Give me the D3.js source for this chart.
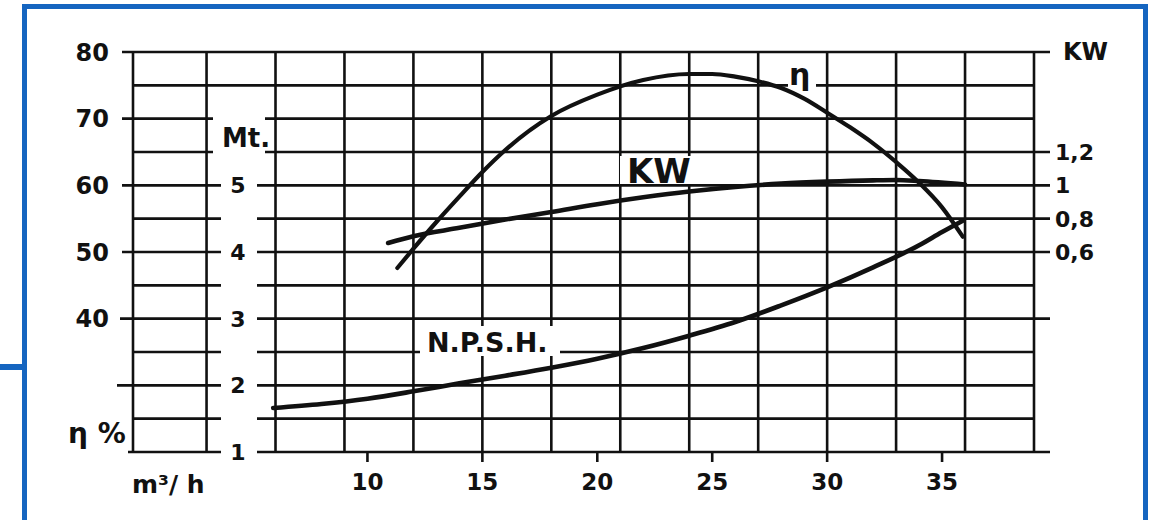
<!DOCTYPE html>
<html>
<head>
<meta charset="utf-8">
<script src="https://cdn.jsdelivr.net/npm/d3@7"></script>
<style>
  html, body { margin: 0; padding: 0; background: #fff; }
  svg { display: block; }
  text { font-family: "DejaVu Sans", sans-serif; font-weight: bold; fill: #111; }
</style>
</head>
<body>
<svg id="chart" width="1157" height="520"></svg>
<script>
// ---------------- data ----------------
const xTicks = [10, 15, 20, 25, 30, 35];
const gridX = [3, 6, 9, 12, 15, 18, 21, 24, 27, 30, 33, 36];
const etaTicks = [80, 70, 60, 50, 40];
const mtTicks = [5, 4, 3, 2, 1];
const kwTicks = [1.2, 1.0, 0.8, 0.6];
const kwTickLabels = ["1,2", "1", "0,8", "0,6"];
const gridMt = [1, 1.5, 2, 2.5, 3, 3.5, 4, 4.5, 5, 5.5, 6, 6.5, 7];

// efficiency η %
const etaQ = [11.3, 12, 13, 14, 15, 16, 18, 20, 22, 24, 25, 26, 27, 28, 29, 30, 31, 32, 33, 34, 35, 35.9];
const etaV = [47.6, 50.5, 54.5, 58.3, 62.0, 65.3, 70.4, 73.6, 75.8, 76.7, 76.7, 76.3, 75.6, 74.6, 73.0, 70.9, 68.7, 66.3, 63.5, 60.4, 56.7, 52.3];
// absorbed power KW
const kwQ = [10.9, 12, 14, 16, 18, 20, 22, 24, 26, 28, 30, 32, 33, 34, 36];
const kwV = [0.654, 0.695, 0.745, 0.795, 0.84, 0.887, 0.928, 0.963, 0.99, 1.01, 1.022, 1.03, 1.032, 1.026, 1.005];
// N.P.S.H. (Mt.)
const npshQ = [5.9, 8, 10, 12, 14, 16, 18, 20, 22, 24, 26, 28, 30, 32, 34, 35, 35.9];
const npshV = [1.66, 1.72, 1.8, 1.91, 2.03, 2.145, 2.265, 2.4, 2.56, 2.745, 2.95, 3.2, 3.47, 3.77, 4.1, 4.3, 4.47];

// ---------------- scales ----------------
const svg = d3.select("#chart");
const X = d3.scaleLinear().domain([-0.2, 39]).range([133, 1034]);
const yEta = d3.scaleLinear().domain([20, 80]).range([452, 52]);
const yMt = d3.scaleLinear().domain([1, 7]).range([452, 52]);
const yKW = d3.scaleLinear().domain([-0.6, 1.8]).range([452, 52]);

const blue = "#1565c0";
const ink = "#111";

// blue frame
svg.append("rect").attr("x", 24.5).attr("y", 6.5).attr("width", 1121).attr("height", 530)
  .attr("fill", "none").attr("stroke", blue).attr("stroke-width", 5);
svg.append("line").attr("x1", 0).attr("x2", 24).attr("y1", 367).attr("y2", 367)
  .attr("stroke", blue).attr("stroke-width", 6);

const g = svg.append("g");

// ---------------- grid ----------------
const [x0, x1] = X.range();
const leftExt = { 7: 122, 6: 122, 5: 122, 4: 122, 3: 120, 2: 117, 1: 128 };
const rightExt = { 7: 1050, 5.5: 1050, 5: 1050, 4.5: 1050, 4: 1050, 3: 1050, 1: 1050 };
g.selectAll("line.h").data(gridMt).join("line")
  .attr("class", "h")
  .attr("x1", d => leftExt[d] || x0)
  .attr("x2", d => rightExt[d] || x1)
  .attr("y1", d => yMt(d)).attr("y2", d => yMt(d))
  .attr("stroke", ink).attr("stroke-width", 2.6);

g.selectAll("line.v").data([X.domain()[0], ...gridX, X.domain()[1]]).join("line")
  .attr("class", "v")
  .attr("x1", d => X(d)).attr("x2", d => X(d))
  .attr("y1", yMt(7)).attr("y2", yMt(1))
  .attr("stroke", ink).attr("stroke-width", 2.6);

// x ticks below bottom line
g.selectAll("line.xt").data(xTicks).join("line")
  .attr("x1", d => X(d)).attr("x2", d => X(d))
  .attr("y1", yMt(1)).attr("y2", yMt(1) + 10)
  .attr("stroke", ink).attr("stroke-width", 2.6);

// white gaps in the grid for labels
const gaps = [
  [221, 110, 36, 350],   // Mt. axis column
  [213, 112, 52, 48],    // "Mt."
  [420, 326, 140, 30],   // N.P.S.H.
  [620, 156, 78, 28],    // KW
  [788, 60, 28, 34]      // η
];
g.selectAll("rect.gap").data(gaps).join("rect")
  .attr("x", d => d[0]).attr("y", d => d[1]).attr("width", d => d[2]).attr("height", d => d[3])
  .attr("fill", "#fff");

// ---------------- curves ----------------
const curve = d3.curveMonotoneX;
const etaLine = d3.line().x(d => X(d[0])).y(d => yEta(d[1])).curve(curve);
const kwLine = d3.line().x(d => X(d[0])).y(d => yKW(d[1])).curve(curve);
const npLine = d3.line().x(d => X(d[0])).y(d => yMt(d[1])).curve(curve);

g.append("path").attr("d", etaLine(d3.zip(etaQ, etaV)))
  .attr("fill", "none").attr("stroke", ink).attr("stroke-width", 4.2).attr("stroke-linecap", "round");
g.append("path").attr("d", kwLine(d3.zip(kwQ, kwV)))
  .attr("fill", "none").attr("stroke", ink).attr("stroke-width", 4.6).attr("stroke-linecap", "round");
g.append("path").attr("d", npLine(d3.zip(npshQ, npshV)))
  .attr("fill", "none").attr("stroke", ink).attr("stroke-width", 4.6).attr("stroke-linecap", "round");

// ---------------- labels ----------------
g.selectAll("text.eta").data(etaTicks).join("text")
  .attr("x", 109).attr("y", d => yEta(d)).attr("dy", "0.36em")
  .attr("text-anchor", "end").attr("font-size", 24).text(d => d);

g.selectAll("text.mt").data(mtTicks).join("text")
  .attr("x", 238).attr("y", d => yMt(d)).attr("dy", "0.36em")
  .attr("text-anchor", "middle").attr("font-size", 22).text(d => d);

g.selectAll("text.kw").data(kwTicks).join("text")
  .attr("x", 1055).attr("y", d => yKW(d)).attr("dy", "0.36em")
  .attr("font-size", 22).text((d, i) => kwTickLabels[i]);

g.selectAll("text.xt").data(xTicks).join("text")
  .attr("x", d => X(d)).attr("y", 490)
  .attr("text-anchor", "middle").attr("font-size", 23).text(d => d);

g.append("text").attr("x", 1063).attr("y", 60).attr("font-size", 24).text("KW");
g.append("text").attr("x", 222).attr("y", 147).attr("font-size", 26).text("Mt.");
g.append("text").attr("x", 68).attr("y", 443).attr("font-size", 28).text("η %");
g.append("text").attr("x", 132).attr("y", 493).attr("font-size", 25).text("m³/ h");
g.append("text").attr("x", 427).attr("y", 352).attr("font-size", 27).text("N.P.S.H.");
g.append("text").attr("x", 627).attr("y", 183).attr("font-size", 34).text("KW");
g.append("text").attr("x", 789).attr("y", 85).attr("font-size", 30).text("η");
</script>
</body>
</html>
